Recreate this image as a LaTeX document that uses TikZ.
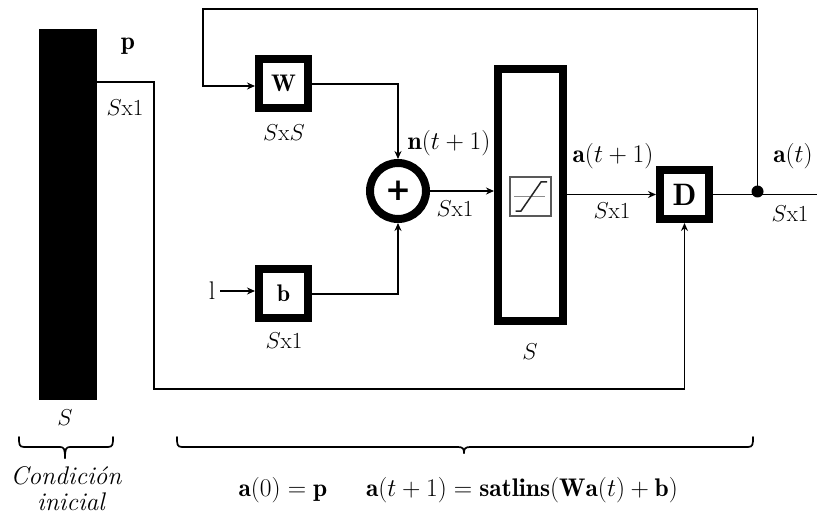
\RequirePackage{fix-cm}
\documentclass[tikz,border=0pt]{standalone}
\usepackage{fontspec}
\newfontfamily\plusfont{DejaVu Sans}
\usetikzlibrary{arrows.meta}
\tikzset{
  lbl/.style={font=\fontsize{25.5}{30}\selectfont,inner sep=0pt,text=black},
  dim/.style={font=\fontsize{23}{27}\selectfont,inner sep=0pt,text=black},
  thickbox/.style={draw=black,fill=white,line width=8pt,minimum width=49pt,minimum height=49pt,inner sep=0pt,font=\fontsize{24}{28}\selectfont},
  wire/.style={draw=black,line width=1.7pt},
  arrowed/.style={wire,-{Stealth[length=8pt,width=7pt]}},
  bracestroke/.style={draw=black,line width=1.7pt,line cap=round}
}
\begin{document}
\begin{tikzpicture}[x=1pt,y=-1pt]
\useasboundingbox (0,0) rectangle (817,516);
% blocks
\node[fill=black,minimum width=58pt,minimum height=371pt,inner sep=0pt] (bar) at (68,214.5) {};
\node[thickbox] (W) at (283.5,83.5) {$\mathbf{W}$};
\node[thickbox] (b) at (283.5,293.5) {$\mathbf{b}$};
\node[thickbox,font=\fontsize{31}{35}\selectfont] (D) at (684.5,194.5) {$\mathbf{D}$};
\node[circle,draw=black,fill=white,line width=8pt,minimum size=56pt,inner sep=0pt,font=\fontsize{31}{35}\selectfont\plusfont\bfseries] (sum) at (398,191) {+};
\node[draw=black,fill=white,line width=8pt,minimum width=65pt,minimum height=252pt,inner sep=0pt] (sat) at (530.5,195) {};
% transfer function icon
\node[draw=black!65,fill=white,line width=1.4pt,minimum width=41pt,minimum height=39pt,inner sep=0pt] (icon) at (530.5,196.5) {};
\draw[black!45,line width=1pt] (icon.west) ++(5,0) -- ++(31,0);
\draw[black!85,line width=1.5pt] (515.5,211) -- (521,211) -- (541,182) -- (547,182);
\node[circle,fill=black,minimum size=12pt,inner sep=0pt] (dot) at (757.5,191.5) {};
% coordinates
\coordinate (pout) at (bar.east |- 0,82);
\coordinate (pc1) at (154,82);
\coordinate (pc2) at (154,389);
\coordinate (pc3) at (D.south |- 0,389);
\coordinate (fb1) at (757.5,9);
\coordinate (fb2) at (203,9);
\coordinate (fb3) at (203,86);
\coordinate (wend) at (W.west |- 0,86);
\coordinate (wo) at (W.east |- 0,84);
\coordinate (wc) at (sum.north |- 0,84);
\coordinate (bo) at (b.east |- 0,294);
\coordinate (bc) at (sum.south |- 0,294);
\coordinate (sin) at (sat.west |- sum.east);
\coordinate (sato) at (sat.east |- D.west);
\coordinate (dout) at (817,194.5);
\coordinate (lin) at (220,291);
\coordinate (bin) at (b.west |- lin);
% connectors
\draw[arrowed] (pout) -- (pc1) -- (pc2) -- (pc3) -- (D.south);
\draw[arrowed] (dot.center) -- (fb1) -- (fb2) -- (fb3) -- (wend);
\draw[arrowed] (wo) -- (wc) -- (sum.north);
\draw[arrowed] (bo) -- (bc) -- (sum.south);
\draw[arrowed] (sum.east) -- (sin);
\draw[arrowed] (sato) -- (D.west);
\draw[wire] (D.east) -- (dout);
\draw[arrowed] (lin) -- (bin);
% labels
\node[lbl] (lp) at (128,46) {$\mathbf{p}$};
\node[dim] (l1) at (125,108) {$S\mathrm{x}1$};
\node[dim] (l2) at (284,133) {$S\mathrm{x}S$};
\node[dim] (l3) at (284,341) {$S\mathrm{x}1$};
\node[lbl] (l4) at (212,291) {l};
\node[lbl] (l5) at (449,143) {$\mathbf{n}(t+1)$};
\node[dim] (l6) at (455,209) {$S\mathrm{x}1$};
\node[lbl] (l7) at (613,156) {$\mathbf{a}(t+1)$};
\node[dim] (l8) at (612,211) {$S\mathrm{x}1$};
\node[lbl] (l9) at (793,156) {$\mathbf{a}(t)$};
\node[dim] (l10) at (790,214) {$S\mathrm{x}1$};
\node[dim] (l11) at (530,352) {$S$};
\node[dim] (l12) at (65,418) {$S$};
\node[lbl] (l13) at (66,476) {\itshape Condición};
\node[lbl] (l14) at (71,502) {\itshape inicial};
\node[lbl] (l15) at (283,490) {$\mathbf{a}(0)=\mathbf{p}$};
\node[lbl] (l16) at (522,490) {$\mathbf{a}(t+1)=\mathbf{satlins}(\mathbf{Wa}(t)+\mathbf{b})$};
% braces
\draw[bracestroke] (19,437) .. controls (19,444) and (19,447) .. (24,447) -- (60,447) .. controls (64,447) and (65,449) .. (65,458);
\draw[bracestroke] (113,437) .. controls (113,444) and (113,447) .. (108,447) -- (70,447) .. controls (66,447) and (65,449) .. (65,458);
\draw[bracestroke] (177,437) .. controls (177,444) and (177,447) .. (182,447) -- (458,447) .. controls (463,447) and (464,449) .. (464,453);
\draw[bracestroke] (753,437) .. controls (753,444) and (753,447) .. (748,447) -- (470,447) .. controls (465,447) and (464,449) .. (464,453);
\end{tikzpicture}
\end{document}
